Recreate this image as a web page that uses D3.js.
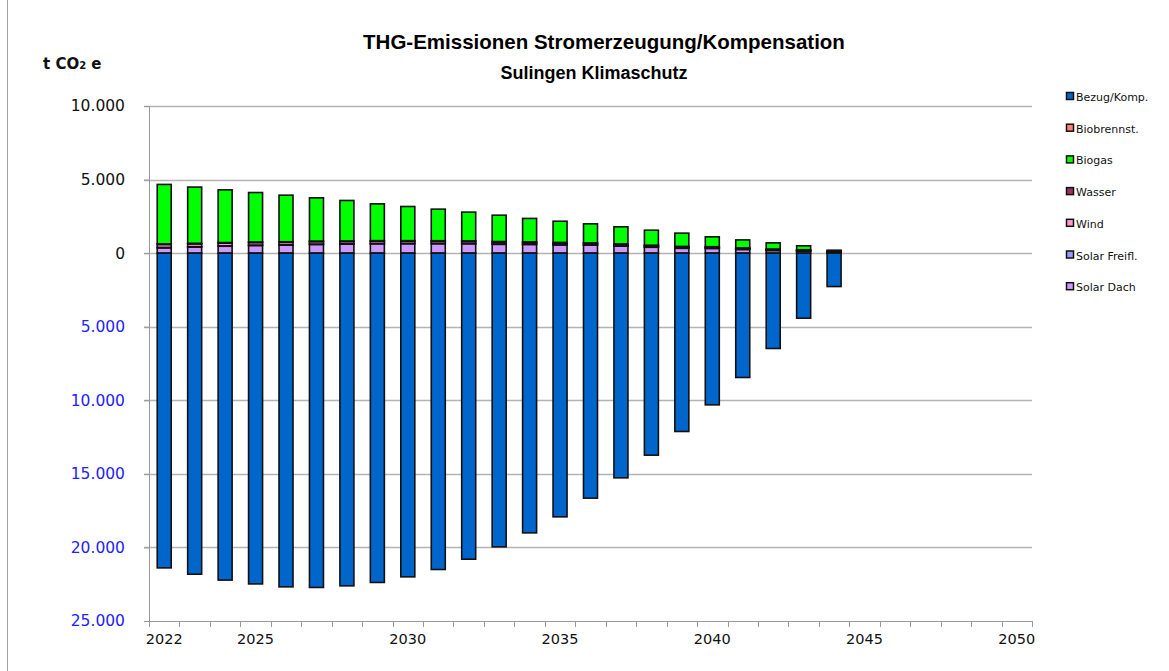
<!DOCTYPE html>
<html lang="de">
<head>
<meta charset="utf-8">
<title>THG-Emissionen Stromerzeugung/Kompensation</title>
<script src="https://d3js.org/d3.v7.min.js"></script>
<style>
  body { margin: 0; background: #fff; }
  svg { display: block; }
  .title { font-family: 'Liberation Sans', Arial, sans-serif; font-weight: bold; }
  .tick text { font-family: 'DejaVu Sans', Verdana, sans-serif; }
  .legend text { font-family: 'DejaVu Sans', Verdana, sans-serif; font-size: 11px; }
</style>
</head>
<body>
<div id="chart"></div>
<script>

// categories on the x axis (one band per year)
var axisYears = ["2022","2023","2024","2025","2026","2027","2028","2029","2030","2031","2032","2033","2034","2035","2036","2037","2038","2039","2040","2041","2042","2043","2044","2045","2046","2047","2048","2049","2050"];
var labelYears = ["2022","2025","2030","2035","2040","2045","2050"];

// years with data
var years = ["2022","2023","2024","2025","2026","2027","2028","2029","2030","2031","2032","2033","2034","2035","2036","2037","2038","2039","2040","2041","2042","2043","2044"];

// series values, t CO2e
var solarDach   = [360, 410, 470, 520, 540, 590, 610, 635, 640, 640, 640, 600, 590, 560, 540, 480, 400, 330, 320, 250, 180, 140, 40];
var solarFreifl = [30, 30, 30, 30, 30, 30, 30, 30, 30, 30, 30, 30, 30, 30, 30, 30, 30, 30, 30, 30, 30, 30, 40];
var wind        = [200, 190, 180, 170, 165, 160, 150, 145, 140, 135, 130, 120, 110, 100, 90, 80, 70, 60, 50, 40, 30, 20, 20];
var wasser      = [40, 40, 40, 40, 40, 40, 40, 40, 40, 40, 40, 40, 40, 40, 40, 40, 40, 40, 40, 40, 40, 40, 50];
var biogas      = [4040, 3820, 3580, 3360, 3165, 2940, 2750, 2500, 2320, 2145, 1950, 1790, 1590, 1440, 1290, 1160, 1020, 900, 670, 540, 420, 270, 50];
var biobrennst  = [0, 0, 0, 0, 0, 0, 0, 0, 0, 0, 0, 0, 0, 0, 0, 0, 0, 0, 0, 0, 0, 0, 0];
var bezug       = [-21390, -21820, -22220, -22480, -22680, -22720, -22610, -22380, -22000, -21500, -20800, -19960, -19010, -17920, -16650, -15270, -13730, -12120, -10310, -8450, -6480, -4420, -2270];

var yTicks = [10000, 5000, 0, -5000, -10000, -15000, -20000, -25000];

// stacking order (bottom up) and legend order (top down)
var seriesKeys = ["Solar Dach", "Solar Freifl.", "Wind", "Wasser", "Biogas", "Biobrennst.", "Bezug/Komp."];
var legendKeys = ["Bezug/Komp.", "Biobrennst.", "Biogas", "Wasser", "Wind", "Solar Freifl.", "Solar Dach"];
var colours = {
  "Bezug/Komp.": "#0066cc",
  "Biobrennst.": "#ff8080",
  "Biogas": "#00ff00",
  "Wasser": "#993366",
  "Wind": "#ff99cc",
  "Solar Freifl.": "#9999ff",
  "Solar Dach": "#cc99ff"
};

var table = years.map(function(y, i) {
  return {
    year: y,
    "Solar Dach": solarDach[i],
    "Solar Freifl.": solarFreifl[i],
    "Wind": wind[i],
    "Wasser": wasser[i],
    "Biogas": biogas[i],
    "Biobrennst.": biobrennst[i],
    "Bezug/Komp.": bezug[i]
  };
});

var width = 1169, height = 671;
var plot = {left: 149, right: 1032, top: 106, bottom: 621};

var de = d3.formatLocale({decimal: ",", thousands: ".", grouping: [3], currency: ["", " €"]});
var fmt = de.format(",d");

var svg = d3.select("#chart")
  .append("svg")
    .attr("width", width)
    .attr("height", height);

// outer frame line
svg.append("line")
  .attr("x1", 7.5).attr("x2", 7.5)
  .attr("y1", 0).attr("y2", height)
  .attr("stroke", "#a0a0a0");

var x = d3.scaleBand()
  .domain(axisYears)
  .range([plot.left, plot.right]);

var y = d3.scaleLinear()
  .domain([-25000, 10000])
  .range([plot.bottom, plot.top]);

// gridlines
svg.append("g")
  .selectAll("line")
  .data(yTicks.filter(function(d) { return d > -25000; }))
  .enter()
  .append("line")
    .attr("x1", plot.left - 5)
    .attr("x2", plot.right)
    .attr("y1", function(d) { return Math.round(y(d)) + 0.5; })
    .attr("y2", function(d) { return Math.round(y(d)) + 0.5; })
    .attr("stroke", "#b4b4b4")
    .attr("stroke-width", 1.3);

// y axis
var yAxis = svg.append("g")
  .attr("transform", "translate(" + plot.left + ",0)")
  .call(d3.axisLeft(y).tickValues(yTicks).tickSize(5).tickPadding(19)
    .tickFormat(function(d) { return fmt(Math.abs(d)); }));
yAxis.select(".domain").attr("stroke", "#999");
yAxis.selectAll(".tick line").attr("stroke", "#999");
yAxis.selectAll(".tick text")
  .style("font-size", "15.5px")
  .attr("fill", function(d) { return d < 0 ? "#2222ff" : "#111"; });

// x axis, ticks on band boundaries
var xAxis = svg.append("g")
  .attr("transform", "translate(0," + plot.bottom + ")");
xAxis.append("line")
  .attr("x1", plot.left).attr("x2", plot.right)
  .attr("y1", 0.5).attr("y2", 0.5)
  .attr("stroke", "#999");
xAxis.selectAll("line.tk")
  .data(axisYears.concat(["end"]))
  .enter()
  .append("line")
    .attr("class", "tk")
    .attr("x1", function(d) { return (d == "end" ? plot.right : Math.round(x(d))) + 0.5; })
    .attr("x2", function(d) { return (d == "end" ? plot.right : Math.round(x(d))) + 0.5; })
    .attr("y1", 0).attr("y2", 6)
    .attr("stroke", "#999");
xAxis.selectAll("text")
  .data(labelYears)
  .enter()
  .append("text")
    .attr("x", function(d) { return x(d) + x.bandwidth() / 2; })
    .attr("y", 23)
    .attr("text-anchor", "middle")
    .style("font-family", "'DejaVu Sans', Verdana, sans-serif")
    .style("font-size", "14.5px")
    .attr("fill", "#111")
    .text(function(d) { return d; });

// stacked bars
var stacked = d3.stack()
  .keys(seriesKeys)
  .offset(d3.stackOffsetDiverging)(table);

var barW = 14;

svg.append("g")
  .selectAll("g")
  .data(stacked)
  .enter()
  .append("g")
    .attr("fill", function(d) { return colours[d.key]; })
  .selectAll("rect")
  .data(function(d) { return d; })
  .enter()
  .append("rect")
    .attr("x", function(d) { return x(d.data.year) + x.bandwidth() / 2 - barW / 2; })
    .attr("y", function(d) { return y(d[1]); })
    .attr("width", barW)
    .attr("height", function(d) { return Math.max(0, y(d[0]) - y(d[1])); })
    .attr("stroke", "#111")
    .attr("stroke-width", 1.6);

// titles
svg.append("text")
  .attr("class", "title")
  .attr("x", 604).attr("y", 49)
  .attr("text-anchor", "middle")
  .style("font-size", "20.5px")
  .text("THG-Emissionen Stromerzeugung/Kompensation");

svg.append("text")
  .attr("class", "title")
  .attr("x", 594).attr("y", 79)
  .attr("text-anchor", "middle")
  .style("font-size", "18px")
  .text("Sulingen Klimaschutz");

var unit = svg.append("text")
  .attr("x", 43).attr("y", 69)
  .style("font-family", "'DejaVu Sans', Verdana, sans-serif")
  .style("font-weight", "bold")
  .style("font-size", "15px")
  .attr("fill", "#111");
unit.append("tspan").text("t CO");
unit.append("tspan").style("font-size", "10px").text("2");
unit.append("tspan").text(" e");

// legend
var legend = svg.append("g")
  .attr("class", "legend")
  .selectAll("g")
  .data(legendKeys)
  .enter()
  .append("g")
    .attr("transform", function(d, i) { return "translate(1066," + (97 + i * 31.7) + ")"; });

legend.append("rect")
  .attr("x", 0.5).attr("y", -4.5)
  .attr("width", 7).attr("height", 7)
  .attr("fill", function(d) { return colours[d]; })
  .attr("stroke", "#111")
  .attr("stroke-width", 1.5);

legend.append("text")
  .attr("x", 10)
  .attr("y", 4)
  .attr("fill", "#111")
  .text(function(d) { return d; });

</script>
</body>
</html>
